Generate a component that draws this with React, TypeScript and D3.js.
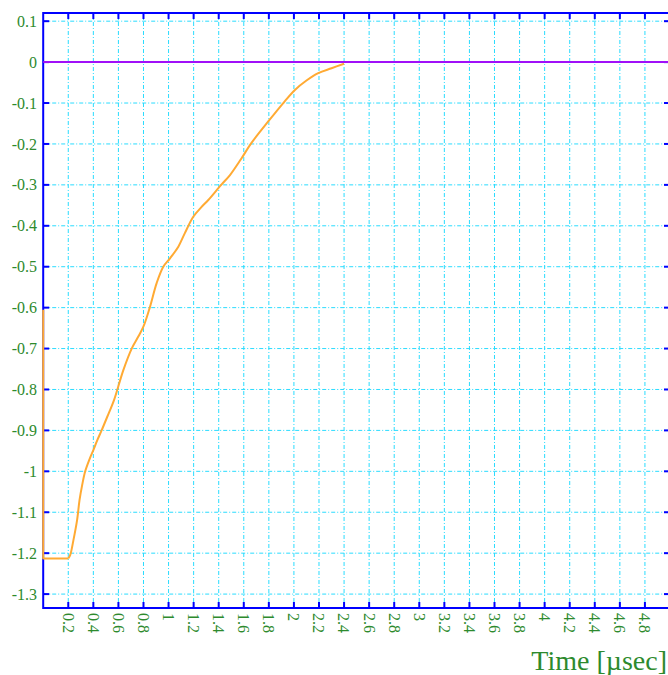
import React from "react";
import * as d3 from "d3";

const xTicks = [0.2, 0.4, 0.6, 0.8, 1, 1.2, 1.4, 1.6, 1.8, 2, 2.2, 2.4, 2.6, 2.8, 3, 3.2, 3.4, 3.6, 3.8, 4, 4.2, 4.4, 4.6, 4.8];
const yTicks = [0.1, 0, -0.1, -0.2, -0.3, -0.4, -0.5, -0.6, -0.7, -0.8, -0.9, -1, -1.1, -1.2, -1.3];

const curveT = [0, 0, 0.2, 0.215, 0.24, 0.27, 0.29, 0.31, 0.335, 0.37, 0.4, 0.43, 0.466, 0.52, 0.565, 0.64, 0.706, 0.76, 0.8, 0.85, 0.905, 0.958, 1.01, 1.078, 1.13, 1.197, 1.26, 1.317, 1.42, 1.49, 1.58, 1.66, 1.795, 1.915, 2.008, 2.1, 2.194, 2.3, 2.4];
const curveV = [-0.605, -1.213, -1.213, -1.205, -1.17, -1.12, -1.07, -1.035, -1.0, -0.97, -0.948, -0.925, -0.9, -0.86, -0.826, -0.752, -0.7, -0.67, -0.646, -0.6, -0.54, -0.5, -0.48, -0.451, -0.418, -0.378, -0.355, -0.337, -0.3, -0.276, -0.236, -0.198, -0.145, -0.1, -0.068, -0.045, -0.027, -0.015, -0.004];

const zeroT = [0, 5];
const zeroV = [0, 0];

const xDomain = [0, 5];
const yDomain = [-1.334, 0.12];

export default function App() {
  const W = 668, H = 675;
  const left = 43.2, right = 670, top = 13, bottom = 608;
  const x = d3.scaleLinear().domain(xDomain).range([left, right]);
  const y = d3.scaleLinear().domain(yDomain).range([bottom, top]);
  const line = d3.line<[number, number]>().x(d => x(d[0])).y(d => y(d[1]));
  const smooth = d3.line<[number, number]>().x(d => x(d[0])).y(d => y(d[1])).curve(d3.curveCatmullRom.alpha(0.5));
  const curvePts: [number, number][] = curveT.map((t, i) => [t, curveV[i]]);
  const zeroPts: [number, number][] = zeroT.map((t, i) => [t, zeroV[i]]);
  const green = "#2d8a2d";
  const blue = "#0000ff";
  const grid = "#2adcff";
  const font = "Liberation Serif, DejaVu Serif, serif";
  const tl = 6;
  return (
    <svg width={W} height={H} style={{ position: "absolute", left: 0, top: 0, background: "#fff" }}>
      {xTicks.map(t => (
        <line key={"gx" + t} x1={x(t)} x2={x(t)} y1={top} y2={bottom} stroke={grid} strokeWidth={1} strokeDasharray="4,2,1,2" />
      ))}
      {yTicks.map(v => (
        <line key={"gy" + v} x1={left} x2={right} y1={y(v)} y2={y(v)} stroke={grid} strokeWidth={1} strokeDasharray="4,2,1,2" />
      ))}
      <rect x={left} y={top} width={right - left} height={bottom - top} fill="none" stroke={blue} strokeWidth={2} />
      {xTicks.map(t => (
        <g key={"tx" + t}>
          <line x1={x(t)} x2={x(t)} y1={bottom} y2={bottom - tl} stroke={blue} strokeWidth={2} />
          <line x1={x(t)} x2={x(t)} y1={top} y2={top + tl} stroke={blue} strokeWidth={2} />
        </g>
      ))}
      {yTicks.map(v => (
        <g key={"ty" + v}>
          <line x1={left} x2={left + tl} y1={y(v)} y2={y(v)} stroke={blue} strokeWidth={2} />
          <line x1={right} x2={right - tl} y1={y(v)} y2={y(v)} stroke={blue} strokeWidth={2} />
        </g>
      ))}
      <path d={line(zeroPts) || ""} fill="none" stroke="#a010f8" strokeWidth={2} />
      <path d={line(curvePts.slice(0, 3)) || ""} fill="none" stroke="#ffaa33" strokeWidth={2} strokeLinejoin="round" />
      <path d={smooth(curvePts.slice(2)) || ""} fill="none" stroke="#ffaa33" strokeWidth={2} strokeLinejoin="round" />
      {yTicks.map(v => (
        <text key={"ly" + v} x={37} y={y(v)} dy="0.35em" textAnchor="end" fontFamily={font} fontSize={16} fill={green}>
          {String(v)}
        </text>
      ))}
      {xTicks.map(t => (
        <text key={"lx" + t} transform={`translate(${x(t)},${bottom + 5}) rotate(90)`} dy="0.35em" textAnchor="start" fontFamily={font} fontSize={16} fill={green}>
          {String(t)}
        </text>
      ))}
      <text x={667} y={670} textAnchor="end" fontFamily={font} fontSize={28} fill={green}>Time [µsec]</text>
    </svg>
  );
}
